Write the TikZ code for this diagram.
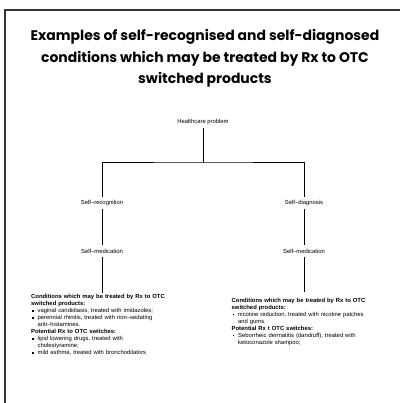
\documentclass[tikz,border=0pt]{standalone}
\usepackage{fontspec}
\usepackage{enumitem}
\setmainfont{Liberation Sans}
\newfontfamily\titlefont{Poppins}
\usepackage{tikz}
\usetikzlibrary{positioning}

\newcommand\sqbullet{\rule[0.35ex]{1.4bp}{1.4bp}}
\setlist[itemize]{leftmargin=6.5bp,labelsep=4bp,topsep=0pt,itemsep=0pt,parsep=0pt,partopsep=0pt,label=\sqbullet}

\tikzset{
    lbl/.style={inner sep=3.5bp, font=\fontsize{5.9}{7}\selectfont},
    cond/.style={anchor=north west, inner sep=2bp, text width=150bp, align=left,
                 font=\fontsize{5.9}{7}\selectfont},
    link/.style={line width=0.8bp}
}

\begin{document}
\begin{tikzpicture}[x=1bp, y=-1bp]
            \useasboundingbox (0,0) rectangle (400,403);
            \draw[line width=1.5bp, black!80] (5,403) -- (5,10) -- (400,10);

            \node[align=center, font=\titlefont\bfseries\fontsize{14}{21.5}\selectfont] (title) at (205,58.5)
                {Examples of self-recognised and self-diagnosed\\
                 conditions which may be treated by Rx to OTC\\
                 switched products};

            \node[lbl] (hp) at (203,122) {Healthcare problem};
            \coordinate (fork) at (203,162);

            \node[lbl] (srec)  at (102,203) {Self--recognition};
            \node[lbl] (smed1) at (102,251) {Self--medication};
            \node[lbl] (sdiag) at (304,203) {Self--diagnosis};
            \node[lbl] (smed2) at (304,251) {Self--medication};

            \node[cond] (cond1) at (29,292.5) {%
                \textbf{Conditions which may be treated by Rx to OTC\\ switched products:}
                \begin{itemize}
                    \item vaginal candidiasis, treated with imidazoles;
                    \item perennial rhinitis, treated with non--sedating\\ anti--histamines.
                \end{itemize}
                \textbf{Potential Rx to OTC switches:}
                \begin{itemize}
                    \item lipid lowering drugs, treated with\\ cholestyramine;
                    \item mild asthma, treated with bronchodilators
                \end{itemize}};

            \node[cond] (cond2) at (229.5,296) {%
                \textbf{Conditions which may be treated by Rx to OTC\\ switched products:}
                \begin{itemize}
                    \item nicotine reduction, treated with nicotine patches\\ and gums.
                \end{itemize}
                \textbf{Potential Rx t OTC switches:}
                \begin{itemize}
                    \item Seborrheic dermatitis (dandruff), treated with\\ ketoconazole shampoo;
                \end{itemize}};

            \draw[link] (hp) -- (fork);
            \draw[link] (srec) |- (fork) -| (sdiag);
            \draw[link] (srec) -- (smed1);
            \draw[link] (sdiag) -- (smed2);
            \draw[link] (smed1) -- (smed1 |- cond1.north);
            \draw[link, shorten >=4bp] (smed2) -- (smed2 |- cond2.north);
\end{tikzpicture}
\end{document}
